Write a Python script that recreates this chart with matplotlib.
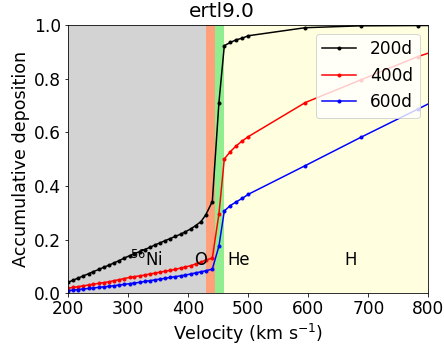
import matplotlib
matplotlib.use("Agg")
from matplotlib import pyplot as plt

# velocity grid (km/s)
velocity = [200, 208, 217, 225, 234, 242, 251, 259, 268, 276, 285, 293, 302, 310,
            319, 327, 336, 344, 353, 361, 370, 378, 387, 395, 404, 412, 421, 429,
            440, 451, 460, 470, 480, 490, 500, 595, 688, 782, 875]

dep_200d = [0.041, 0.049, 0.057, 0.065, 0.073, 0.081, 0.089, 0.097, 0.105, 0.113,
            0.122, 0.131, 0.140, 0.148, 0.155, 0.163, 0.171, 0.180, 0.188, 0.196,
            0.204, 0.212, 0.220, 0.229, 0.240, 0.252, 0.267, 0.292,
            0.342, 0.711, 0.923, 0.935, 0.945, 0.951, 0.960, 0.990, 0.997, 0.998, 0.999]

dep_400d = [0.019, 0.022, 0.025, 0.028, 0.031, 0.034, 0.037, 0.040, 0.043, 0.047,
            0.051, 0.055, 0.059, 0.062, 0.065, 0.068, 0.072, 0.075, 0.079, 0.082,
            0.086, 0.089, 0.094, 0.098, 0.103, 0.109, 0.116, 0.124,
            0.131, 0.296, 0.501, 0.528, 0.550, 0.568, 0.584, 0.711, 0.796, 0.882, 0.950]

dep_600d = [0.010, 0.012, 0.014, 0.016, 0.018, 0.020, 0.022, 0.024, 0.026, 0.028,
            0.031, 0.033, 0.036, 0.038, 0.041, 0.044, 0.047, 0.050, 0.053, 0.056,
            0.059, 0.062, 0.065, 0.068, 0.072, 0.076, 0.080, 0.084,
            0.090, 0.176, 0.307, 0.327, 0.341, 0.354, 0.369, 0.476, 0.582, 0.686, 0.790]

# composition zones: (start, end, colour, label, label x)
zones = [(200, 430, 'lightgray', r'$^{56}$Ni', 330),
         (430, 445, 'lightsalmon', 'O', 421),
         (445, 460, 'lightgreen', '', 0),
         (460, 800, 'lightyellow', 'He', 484)]
h_label_x = 671

DPI = 72
fig = plt.figure(figsize=(444 / DPI, 345 / DPI), dpi=DPI)
ax = fig.add_axes([0.1538, 0.1499, 0.811, 0.7776])

for v0, v1, col, lab, lx in zones:
    ax.axvspan(v0, v1, color=col, lw=0)
    if lab:
        ax.text(lx, 0.125, lab, fontsize=16.5, ha='center', va='center')
ax.text(h_label_x, 0.125, 'H', fontsize=16.5, ha='center', va='center')

ax.plot(velocity, dep_200d, 'k.-', ms=6, lw=1.5, label='200d')
ax.plot(velocity, dep_400d, 'r.-', ms=6, lw=1.5, label='400d')
ax.plot(velocity, dep_600d, 'b.-', ms=6, lw=1.5, label='600d')

ax.set_xlim(200, 800)
ax.set_ylim(0, 1)
ax.tick_params(labelsize=17)
ax.set_xlabel(r'Velocity (km s$^{-1}$)', fontsize=17.5)
ax.set_ylabel('Accumulative deposition', fontsize=17.5)
fig.suptitle('ertl9.0', fontsize=20, y=0.995)
ax.legend(loc='upper right', fontsize=17)

fig.savefig('out.png', dpi=DPI)
